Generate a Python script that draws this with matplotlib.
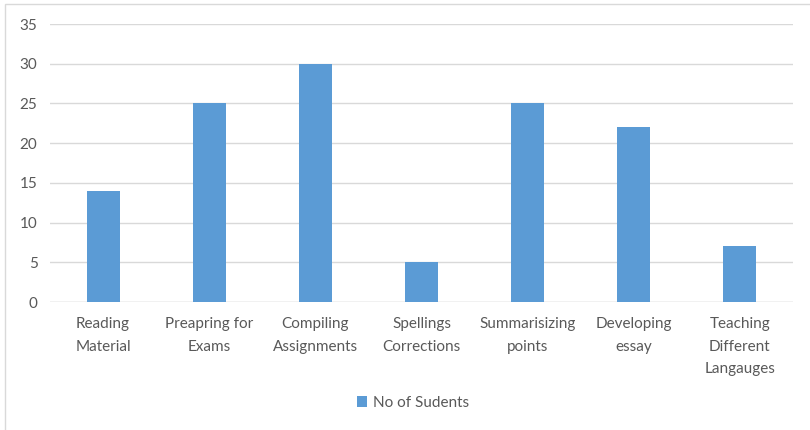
"""Bar chart: number of students per use of the tool."""

import matplotlib.pyplot as plt
from matplotlib.patches import Rectangle

categories = [
    "Reading\nMaterial",
    "Preapring for\nExams",
    "Compiling\nAssignments",
    "Spellings\nCorrections",
    "Summarisizing\npoints",
    "Developing\nessay",
    "Teaching\nDifferent\nLangauges",
]
students = [14, 25, 30, 5, 25, 22, 7]
y_ticks = [0, 5, 10, 15, 20, 25, 30, 35]
series_name = "No of Sudents"

BAR_COLOR = "#5B9BD5"
TEXT_COLOR = "#595959"
GRID_COLOR = "#D9D9D9"

plt.rcParams["font.family"] = ["Lato", "DejaVu Sans"]

fig = plt.figure(figsize=(8.1, 4.3), dpi=100)
ax = fig.add_axes([50 / 810, 1 - 302 / 430, 743 / 810, 278 / 430])

x = range(len(categories))
ax.bar(x, students, width=0.31, color=BAR_COLOR, label=series_name, zorder=3)

ax.set_xlim(-0.5, len(categories) - 0.5)
ax.set_ylim(0, 35)
ax.set_yticks(y_ticks)
ax.set_xticks(list(x))
ax.set_xticklabels(categories, linespacing=1.75)
ax.grid(axis="y", color=GRID_COLOR, linewidth=1, zorder=0)
ax.tick_params(axis="both", length=0, colors=TEXT_COLOR, labelsize=11)
ax.tick_params(axis="x", pad=11)
ax.tick_params(axis="y", pad=9)
for name, spine in ax.spines.items():
    spine.set_visible(False)
ax.axhline(0, color=GRID_COLOR, linewidth=1, zorder=2)

# chart frame like the original export
fig.patches.append(
    Rectangle((5 / 810, -0.1), 1.1, 1.1 - 4 / 430, transform=fig.transFigure,
              fill=False, edgecolor="#D9D9D9", linewidth=1)
)

fig.legend(
    loc="center",
    bbox_to_anchor=(413 / 810, 1 - 403 / 430),
    frameon=False,
    fontsize=11,
    labelcolor=TEXT_COLOR,
    handlelength=0.7,
    handleheight=0.7,
    handletextpad=0.4,
)

fig.savefig("out.png", dpi=100)
